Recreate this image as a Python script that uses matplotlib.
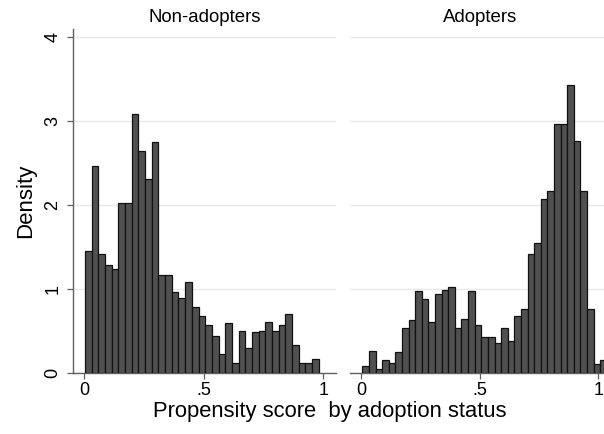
import numpy as np
import matplotlib.pyplot as plt

plt.rcParams['font.family'] = ['Liberation Sans', 'DejaVu Sans']

# histogram bins shared by both groups
bin_start = 0.0035
bin_width = 0.0279

non_adopters = [1.45, 2.46, 1.42, 1.28, 1.235, 2.02, 2.03, 3.09, 2.65, 2.31, 2.75,
                1.17, 1.17, 0.96, 0.89, 1.08, 0.78, 0.68, 0.57, 0.44, 0.22, 0.59,
                0.11, 0.50, 0.29, 0.48, 0.50, 0.60, 0.50, 0.57, 0.70, 0.33, 0.12,
                0.12, 0.16]
adopters = [0.08, 0.26, 0.05, 0.15, 0.12, 0.25, 0.53, 0.63, 0.97, 0.88, 0.60,
            0.94, 0.99, 1.02, 0.53, 0.64, 0.97, 0.57, 0.42, 0.43, 0.35, 0.53,
            0.38, 0.68, 0.76, 1.42, 1.55, 2.07, 2.17, 2.97, 2.97, 3.43, 2.76,
            2.17, 0.76, 0.10, 0.15]

panels = ['Non-adopters', 'Adopters']
xticks = [0, 0.5, 1]
xticklabels = ['0', '.5', '1']
yticks = [0, 1, 2, 3, 4]

W, H = 604, 434
fig = plt.figure(figsize=(W / 100, H / 100), dpi=100)
fig.patch.set_facecolor('white')

def frac(x0, y0, x1, y1):
    return [x0 / W, 1 - y1 / H, (x1 - x0) / W, (y1 - y0) / H]

ax1 = fig.add_axes(frac(72.7, 29, 336, 372.7))
ax2 = fig.add_axes(frac(350, 29, 611, 372.7))

axis_grey = '#606060'
for ax, title, vals in zip([ax1, ax2], panels, [non_adopters, adopters]):
    edges = bin_start + bin_width * np.arange(len(vals))
    ax.bar(edges, vals, width=bin_width, align='edge', color='#505050',
           edgecolor='#111111', linewidth=0.9, zorder=3)
    ax.set_xlim(-0.0485, 1.053)
    ax.set_ylim(0, 4.1)
    ax.set_yticks(yticks)
    ax.yaxis.grid(True, color='#e8e8e8', linewidth=1.0, zorder=0)
    ax.set_xticks(xticks)
    ax.set_xticklabels(xticklabels, fontsize=13)
    ax.tick_params(axis='x', direction='out', length=4, width=0.9,
                   color=axis_grey, pad=3)
    for s in ['top', 'right']:
        ax.spines[s].set_visible(False)
    ax.spines['bottom'].set_color(axis_grey)
    ax.spines['bottom'].set_linewidth(1.0)
    ax.set_title(title, fontsize=13.4, pad=5)

ax1.spines['left'].set_color(axis_grey)
ax1.spines['left'].set_linewidth(1.0)
ax1.tick_params(axis='y', direction='out', length=4, width=0.9,
                color=axis_grey, pad=4, labelsize=13)
plt.setp(ax1.get_yticklabels(), rotation=90, va='center')
ax1.set_ylabel('Density', fontsize=16, labelpad=6)

ax2.spines['left'].set_visible(False)
ax2.tick_params(axis='y', left=False, labelleft=False)

# x title sits centred under both panels
fig.text(330 / W, 1 - 412 / H, 'Propensity score  by adoption status',
         ha='center', va='center', fontsize=15.8)

fig.savefig('out.png', dpi=100)
